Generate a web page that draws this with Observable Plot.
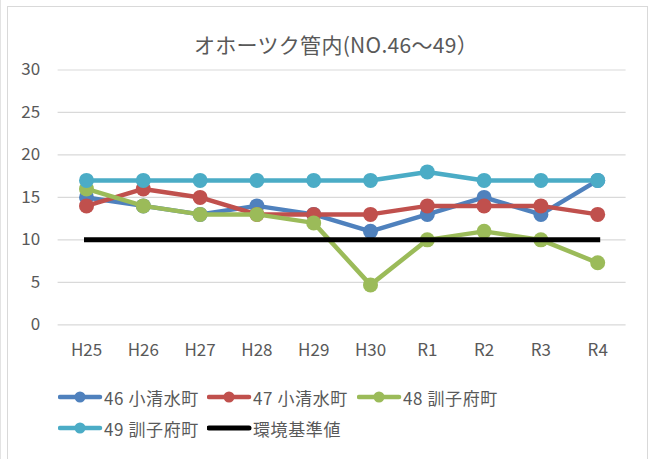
<!DOCTYPE html>
<html>
<head>
<meta charset="utf-8">
<script src="https://cdn.jsdelivr.net/npm/d3@7"></script>
<script src="https://cdn.jsdelivr.net/npm/@observablehq/plot@0.6"></script>
<style>
  html, body { margin: 0; padding: 0; background: #fff; }
  #wrap { position: relative; width: 650px; height: 459px; overflow: hidden;
          font-family: "Noto Sans CJK JP", "Noto Sans", sans-serif; color: #595959; }
  #frame { position: absolute; left: 7px; top: 6px; width: 641px; height: 470px;
           border: 1.5px solid #d9d9d9; box-sizing: border-box; }
  #edge { position: absolute; left: 0px; top: 0; width: 1px; height: 459px; background: #e3e3e3; }
  #title { position: absolute; left: 0; width: 672px; top: 30px; text-align: center;
           font-size: 21px; line-height: 28px; color: #595959; white-space: nowrap; letter-spacing: 0.3px; }
  .leg { position: absolute; display: flex; align-items: center; height: 24px;
         font-size: 17px; color: #595959; white-space: nowrap; letter-spacing: 0.6px; }
  .leg svg { margin-right: 1px; }
  #chart { position: absolute; left: 0; top: 0; }
</style>
</head>
<body>
<div id="wrap">
  <div id="edge"></div>
  <div id="frame"></div>
  <div id="chart"></div>
  <div id="title"></div>
</div>
<script>
const years = ["H25","H26","H27","H28","H29","H30","R1","R2","R3","R4"];
const s46 = [15, 14, 13, 14, 13, 11, 13, 15, 13, 17];
const s47 = [14, 16, 15, 13, 13, 13, 14, 14, 14, 13];
const s48 = [16, 14, 13, 13, 12, 4.7, 10, 11, 10, 7.3];
const s49 = [17, 17, 17, 17, 17, 17, 18, 17, 17, 17];
const standard = [10, 10, 10, 10, 10, 10, 10, 10, 10, 10];
const seriesNames = ["46 小清水町", "47 小清水町", "48 訓子府町", "49 訓子府町", "環境基準値"];
const seriesColors = ["#4F81BD", "#C0504D", "#9BBB59", "#4BACC6", "#000000"];
const yTicks = [0, 5, 10, 15, 20, 25, 30];
const titleText = "オホーツク管内(NO.46～49）";

const allValues = [s46, s47, s48, s49, standard];
const rows = allValues.map((vals, i) => years.map((y, j) => ({year: y, value: vals[j], series: seriesNames[i]})));

const marks = [
  Plot.ruleY(yTicks, {stroke: "#d9d9d9", strokeWidth: 1.2}),
  Plot.axisY({ticks: yTicks, tickSize: 0, tickPadding: 18, fontSize: 17, label: null, fill: "#595959"}),
  Plot.axisX({tickSize: 0, tickPadding: 19, fontSize: 17, label: null, fill: "#595959"})
];
rows.forEach((data, i) => {
  const isStd = i === 4;
  marks.push(Plot.line(data, {x: "year", y: "value", stroke: seriesColors[i],
    strokeWidth: isStd ? 5 : 4.5, strokeLinejoin: "round", strokeLinecap: isStd ? "square" : "round"}));
  if (!isStd) marks.push(Plot.dot(data, {x: "year", y: "value", fill: seriesColors[i], r: 7.5}));
});

const chart = Plot.plot({
  width: 650,
  height: 459,
  marginLeft: 57.6,
  marginRight: 24.4,
  marginTop: 69.5,
  marginBottom: 134.7,
  style: {fontFamily: "'Noto Sans CJK JP', 'Noto Sans', sans-serif", background: "transparent", color: "#595959"},
  x: {type: "point", domain: years, padding: 0.5, round: false, label: null},
  y: {domain: [0, 30], label: null},
  marks
});
document.getElementById("chart").appendChild(chart);
document.getElementById("title").textContent = titleText;

const legPos = [[58, 397], [207, 397], [357, 397], [58, 428], [207, 428]];
const wrap = document.getElementById("wrap");
seriesNames.forEach((name, i) => {
  const d = document.createElement("div");
  d.className = "leg";
  d.style.left = legPos[i][0] + "px";
  d.style.top = (legPos[i][1] - 12) + "px";
  const isStd = i === 4;
  d.innerHTML = `<svg width="45" height="24"><line x1="2" y1="12" x2="42" y2="12" stroke="${seriesColors[i]}" stroke-width="${isStd ? 5 : 4.5}" stroke-linecap="round"/>${isStd ? "" : `<circle cx="22" cy="12" r="5.5" fill="${seriesColors[i]}"/>`}</svg><span></span>`;
  d.querySelector("span").textContent = name;
  wrap.appendChild(d);
});
</script>
</body>
</html>
